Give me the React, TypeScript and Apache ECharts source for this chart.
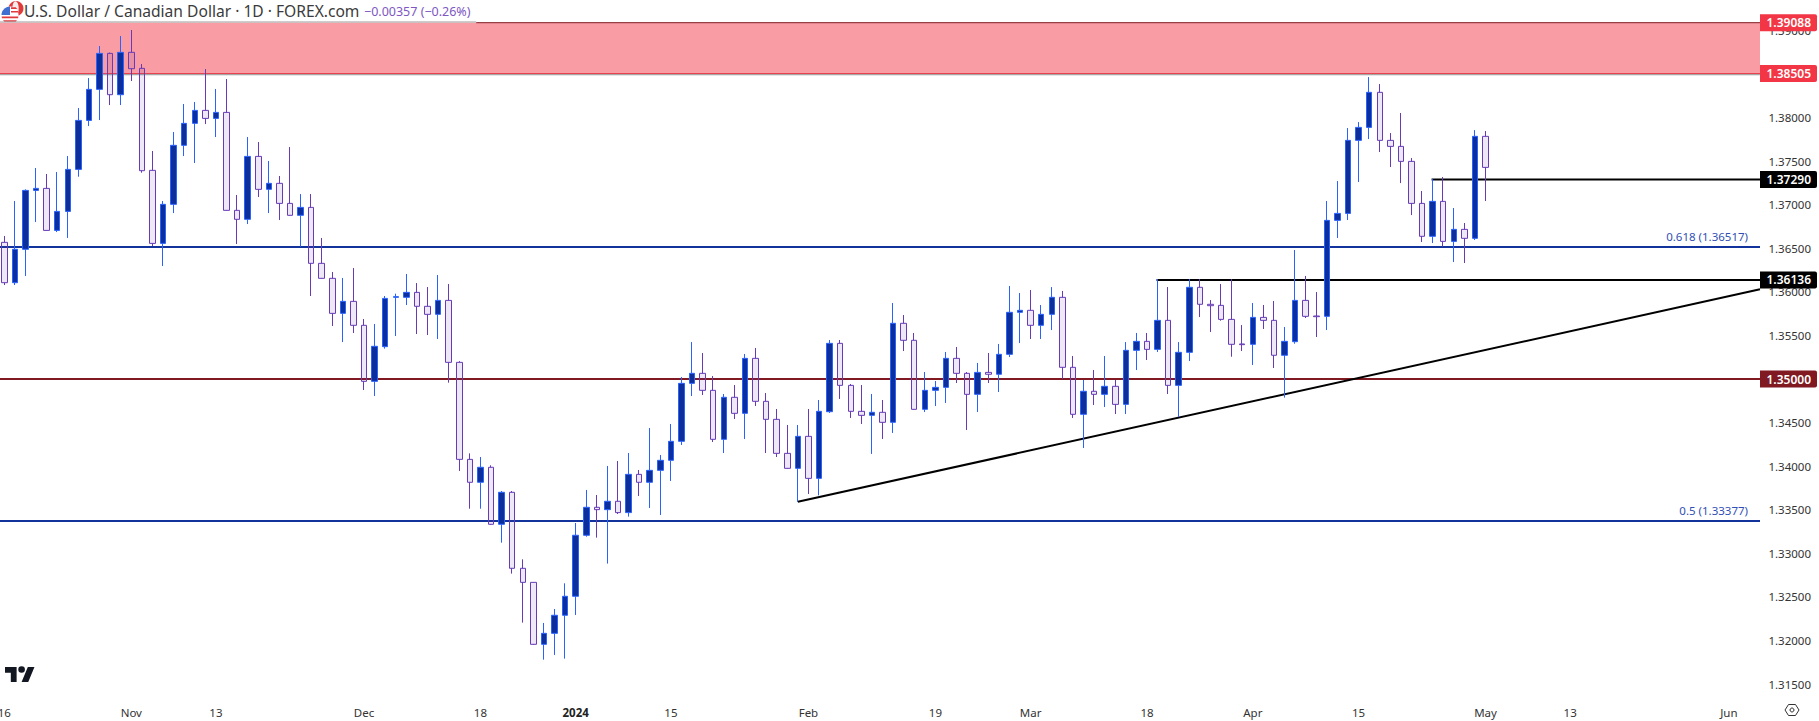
import React, { useEffect, useRef } from "react";
import * as echarts from "echarts";

const opens = [
  1.36568, 1.36105, 1.36488, 1.37164, 1.37187, 1.36705, 1.36923, 1.37405, 1.37967, 1.38323,
  1.38736, 1.38262, 1.38748, 1.38564, 1.37394, 1.36556, 1.37004, 1.37681, 1.37933, 1.38082,
  1.3799, 1.38059, 1.36935, 1.36832, 1.37554, 1.37176, 1.37245, 1.37015, 1.36878, 1.36969,
  1.36327, 1.36155, 1.35753, 1.35891, 1.35616, 1.34973, 1.35371, 1.35937, 1.35937, 1.35994,
  1.35834, 1.35742, 1.35902, 1.35191, 1.34078, 1.33815, 1.33987, 1.33333, 1.337, 1.32828,
  1.32667, 1.31956, 1.32082, 1.32289, 1.32507, 1.33207, 1.33528, 1.33501, 1.33597, 1.33467,
  1.33906, 1.33815, 1.33952, 1.34067, 1.34285, 1.3495, 1.35065, 1.3487, 1.34308, 1.3479,
  1.34606, 1.35237, 1.34744, 1.34537, 1.34147, 1.33975, 1.34342, 1.3386, 1.34625, 1.35409,
  1.34927, 1.34629, 1.34583, 1.34618, 1.34503, 1.35639, 1.35444, 1.34652, 1.3487, 1.34904,
  1.35237, 1.35065, 1.34824, 1.35076, 1.35054, 1.35283, 1.35765, 1.35788, 1.35616, 1.35742,
  1.35937, 1.35134, 1.34595, 1.34859, 1.34824, 1.34916, 1.34709, 1.35329, 1.35432, 1.3534,
  1.35673, 1.34927, 1.35306, 1.36052, 1.35857, 1.35845, 1.35684, 1.35402, 1.35398, 1.35707,
  1.35673, 1.35272, 1.35428, 1.35902, 1.35723, 1.35719, 1.3682, 1.369, 1.37738, 1.37887,
  1.38289, 1.37738, 1.37669, 1.37497, 1.37015, 1.36637, 1.37038, 1.36579, 1.36717, 1.36614,
  1.37784,
];
const closes = [
  1.36105, 1.36488, 1.37164, 1.37187, 1.36705, 1.36923, 1.37405, 1.37967, 1.38323, 1.38736,
  1.38262, 1.38748, 1.3856, 1.3739, 1.36556, 1.37004, 1.37681, 1.37933, 1.38082, 1.3799,
  1.38059, 1.36935, 1.36832, 1.37554, 1.37176, 1.37245, 1.37015, 1.36878, 1.36969, 1.36327,
  1.36155, 1.35753, 1.35891, 1.35616, 1.34973, 1.35375, 1.35925, 1.35945, 1.35994, 1.35834,
  1.35742, 1.35902, 1.35191, 1.34078, 1.33815, 1.33987, 1.33333, 1.337, 1.32828, 1.32667,
  1.31956, 1.32082, 1.32289, 1.32507, 1.33207, 1.33528, 1.33501, 1.33597, 1.33467, 1.33906,
  1.33815, 1.33952, 1.34067, 1.34285, 1.3495, 1.35065, 1.3487, 1.34308, 1.3479, 1.34606,
  1.35237, 1.34744, 1.34537, 1.34147, 1.33975, 1.34342, 1.3386, 1.34629, 1.35409, 1.34927,
  1.34629, 1.34583, 1.34618, 1.34503, 1.35639, 1.35444, 1.34652, 1.3487, 1.34904, 1.35237,
  1.35065, 1.34824, 1.35076, 1.35054, 1.35283, 1.35765, 1.35788, 1.35616, 1.35742, 1.35937,
  1.35134, 1.34595, 1.34859, 1.34824, 1.34916, 1.34709, 1.35329, 1.35432, 1.3534, 1.35673,
  1.34927, 1.35306, 1.36052, 1.35857, 1.35841, 1.35684, 1.35398, 1.35394, 1.35707, 1.35673,
  1.35272, 1.35432, 1.35902, 1.35719, 1.35715, 1.3682, 1.369, 1.37738, 1.37887, 1.38289,
  1.37738, 1.37669, 1.37497, 1.37015, 1.36637, 1.37038, 1.36579, 1.36717, 1.36614, 1.37784,
  1.37428,
];
const lows = [
  1.36078, 1.36078, 1.36182, 1.36801, 1.36702, 1.36686, 1.36618, 1.37321, 1.37902, 1.37971,
  1.38143, 1.38143, 1.38419, 1.37367, 1.36526, 1.36296, 1.36904, 1.37558, 1.37478, 1.37925,
  1.37776, 1.36931, 1.36549, 1.36778, 1.37088, 1.36904, 1.36824, 1.36874, 1.36518, 1.35952,
  1.36151, 1.35608, 1.35424, 1.35528, 1.34874, 1.34805, 1.35348, 1.35493, 1.35849, 1.35516,
  1.35505, 1.35459, 1.34958, 1.33945, 1.33512, 1.33512, 1.33325, 1.33122, 1.32767, 1.32205,
  1.3195, 1.3178, 1.31834, 1.31792, 1.32293, 1.33191, 1.3318, 1.32882, 1.33451, 1.33421,
  1.33658, 1.3352, 1.3344, 1.3383, 1.34243, 1.34805, 1.34816, 1.34277, 1.34151, 1.34541,
  1.34312, 1.3469, 1.34151, 1.34105, 1.33971, 1.33589, 1.33681, 1.33665, 1.3461, 1.34771,
  1.34553, 1.34484, 1.3414, 1.34312, 1.34381, 1.35321, 1.34648, 1.34621, 1.3469, 1.34725,
  1.34954, 1.34415, 1.34621, 1.34954, 1.34851, 1.35252, 1.35413, 1.35459, 1.35459, 1.35562,
  1.35, 1.34553, 1.34208, 1.34702, 1.34679, 1.34598, 1.34598, 1.35103, 1.35218, 1.3531,
  1.34828, 1.34564, 1.35206, 1.35711, 1.35539, 1.35669, 1.35256, 1.35321, 1.35161, 1.35574,
  1.35126, 1.34786, 1.35405, 1.357, 1.35482, 1.35562, 1.36618, 1.36824, 1.3726, 1.37753,
  1.37604, 1.37432, 1.37248, 1.36881, 1.36572, 1.3656, 1.36518, 1.36342, 1.36331, 1.36595,
  1.37042,
];
const highs = [
  1.36641, 1.37042, 1.37176, 1.37421, 1.37352, 1.37375, 1.37558, 1.38109, 1.38453, 1.3882,
  1.38745, 1.38935, 1.39004, 1.38614, 1.37616, 1.37042, 1.37834, 1.38155, 1.38178, 1.38556,
  1.38327, 1.38442, 1.37111, 1.37776, 1.37719, 1.37501, 1.37329, 1.37661, 1.37122, 1.37122,
  1.36618, 1.36228, 1.36159, 1.36273, 1.35688, 1.35631, 1.35952, 1.35979, 1.36205, 1.36101,
  1.36055, 1.36193, 1.3609, 1.35205, 1.34147, 1.34105, 1.3401, 1.33715, 1.33715, 1.32931,
  1.3267, 1.32201, 1.32361, 1.32656, 1.33348, 1.33727, 1.33669, 1.34002, 1.34059, 1.34151,
  1.33956, 1.34438, 1.34128, 1.34484, 1.35023, 1.35424, 1.35298, 1.35034, 1.34828, 1.34931,
  1.35287, 1.35356, 1.34839, 1.34656, 1.34472, 1.34472, 1.34656, 1.34759, 1.35447, 1.35447,
  1.34943, 1.34931, 1.34828, 1.34759, 1.35872, 1.35734, 1.35528, 1.3508, 1.34977, 1.3531,
  1.35367, 1.3508, 1.35184, 1.35298, 1.35402, 1.36067, 1.35987, 1.36021, 1.35849, 1.36055,
  1.3601, 1.35264, 1.34989, 1.35103, 1.35264, 1.34989, 1.35424, 1.35528, 1.35528, 1.36147,
  1.36055, 1.35424, 1.36147, 1.36147, 1.35906, 1.3609, 1.36147, 1.35619, 1.35872, 1.35849,
  1.35895, 1.35597, 1.3648, 1.36182, 1.35998, 1.37042, 1.37271, 1.37879, 1.37948, 1.38464,
  1.38384, 1.37822, 1.38052, 1.37535, 1.37157, 1.37294, 1.37317, 1.36962, 1.3679, 1.37856,
  1.37845,
];

const yTicks = [1.315, 1.32, 1.325, 1.33, 1.335, 1.34, 1.345, 1.35, 1.355, 1.36, 1.365, 1.37, 1.375, 1.38, 1.385, 1.39];
const xTickPositions = [0, 12, 20, 34, 45, 54, 63, 76, 88, 97, 108, 118, 128, 140, 148, 163];
const xTickLabels = ["16", "Nov", "13", "Dec", "18", "2024", "15", "Feb", "19", "Mar", "18", "Apr", "15", "May", "13", "Jun"];

const zone = [1.38505, 1.39088];
const fib618 = 1.36517;
const fib500 = 1.33377;
const psychLevel = 1.35;
const swingHigh = { price: 1.3729, from: 134.9 };
const swingLow = { price: 1.36136, from: 108.9 };
const trend = [[75, 1.33592], [165.94, 1.36029]];
const tags = [
  { value: 1.39088, key: "r" },
  { value: 1.38505, key: "r" },
  { value: 1.3729, key: "k" },
  { value: 1.36136, key: "k" },
  { value: 1.35, key: "m" },
];

const X_MIN = -0.411;
const X_MAX = 165.94;
const Y_MIN = 1.31363;
const Y_MAX = 1.39096;
const FONT = "Noto Sans";

echarts.graphic.registerShape("tvLogo", echarts.graphic.extendPath("M14 22H7V11H0V4h14v18zM28 22h-8l7.5-18h8L28 22zM20 11a4 4 0 1 0 0-8 4 4 0 0 0 0 8z", {}));
echarts.graphic.registerShape("usBlue", echarts.graphic.extendPath("M1.6 13.6A8.5 8.5 0 0 1 10 6.5V15H1.5z", {}));
echarts.graphic.registerShape("usRed", echarts.graphic.extendPath("M11 7.2H15.7L17.2 9H11zM11 11h6.9l.5 1.6H11zM1.6 16.6H18.4L18 18.2H2zM3 20.2H17L15.6 21.8H4.4z", {}));

function hLine(x0: number, x1: number, y: number, color: string, width: number, z = 2) {
  return {
    type: "line",
    data: [[x0, y], [x1, y]],
    showSymbol: false,
    silent: true,
    clip: false,
    z,
    lineStyle: { color, width },
  };
}

function tagStyle(backgroundColor: string) {
  return {
    backgroundColor,
    color: "#fff",
    width: 51,
    height: 17,
    align: "right",
    padding: [0, 6, 0, 0],
    fontSize: 12,
    fontWeight: 600,
    fontFamily: FONT,
    borderRadius: [0, 2, 2, 0],
  };
}

export default function App() {
  const ref = useRef<HTMLDivElement>(null);
  useEffect(() => {
    document.body.style.margin = "0";
    const chart = echarts.init(ref.current!, null, { renderer: "svg" });
    const candleData = opens.map((o, i) => [i, o, closes[i], lows[i], highs[i]]);
    const fibLabel = (text: string) => ({
      show: true,
      formatter: text,
      position: "insideEndTop",
      distance: 4,
      padding: [0, 8, 0, 0],
      color: "#2f4fb5",
      fontSize: 11.5,
      fontFamily: FONT,
    });
    chart.setOption({
      animation: false,
      backgroundColor: "#ffffff",
      title: [
        {
          text: "U.S. Dollar / Canadian Dollar · 1D · FOREX.com",
          left: 24,
          top: 3,
          padding: 0,
          textStyle: { color: "#3b3b3b", fontSize: 15.6, fontWeight: "normal", fontFamily: FONT },
        },
        {
          text: "−0.00357 (−0.26%)",
          left: 364,
          top: 5,
          padding: 0,
          textStyle: { color: "#7e57c2", fontSize: 12.5, fontWeight: "normal", fontFamily: FONT },
        },
      ],
      grid: { left: 0, top: 22, width: 1760, height: 674, containLabel: false, outerBoundsMode: "none" },
      xAxis: {
        type: "value",
        min: X_MIN,
        max: X_MAX,
        splitLine: { show: false },
        axisLine: { show: false },
        axisTick: { show: false },
        axisLabel: {
          show: true,
          customValues: xTickPositions,
          formatter: (v: number) => {
            const label = xTickLabels[xTickPositions.indexOf(v)] ?? "";
            return label === "2024" ? `{b|${label}}` : label;
          },
          rich: { b: { fontWeight: "bold", color: "#222", fontSize: 11.5, fontFamily: FONT } },
          color: "#333",
          fontSize: 11.5,
          fontFamily: FONT,
          margin: 10,
          hideOverlap: false,
          showMinLabel: true,
          showMaxLabel: true,
        },
      },
      yAxis: [
        {
          type: "value",
          position: "right",
          min: Y_MIN,
          max: Y_MAX,
          splitLine: { show: false },
          axisLine: { show: false },
          axisTick: { show: false },
          axisLabel: {
            customValues: yTicks,
            formatter: (v: number) => v.toFixed(5),
            align: "right",
            margin: 51,
            color: "#333",
            fontSize: 11.5,
            fontFamily: FONT,
          },
        },
        {
          type: "value",
          position: "right",
          min: Y_MIN,
          max: Y_MAX,
          splitLine: { show: false },
          axisLine: { show: false },
          axisTick: { show: false },
          axisLabel: {
            customValues: tags.map((t) => t.value),
            formatter: (v: number) => {
              const t = tags.find((g) => g.value === v);
              return `{${t ? t.key : "k"}|${v.toFixed(5)}}`;
            },
            align: "left",
            margin: 0,
            rich: { r: tagStyle("#f23645"), k: tagStyle("#000000"), m: tagStyle("#801922") },
          },
        },
      ],
      series: [
        {
          type: "line",
          data: [],
          silent: true,
          z: 1,
          markArea: {
            silent: true,
            z: 1,
            itemStyle: { color: "#f99ca4", borderWidth: 0 },
            data: [[{ yAxis: zone[0] }, { yAxis: zone[1] }]],
          },
          markLine: {
            silent: true,
            z: 2,
            symbol: "none",
            precision: 5,
            animation: false,
            data: [
              { yAxis: fib618, lineStyle: { color: "#12339b", width: 2, type: "solid" }, label: fibLabel("0.618 (1.36517)") },
              { yAxis: fib500, lineStyle: { color: "#12339b", width: 2, type: "solid" }, label: fibLabel("0.5 (1.33377)") },
              { yAxis: psychLevel, lineStyle: { color: "#801922", width: 2, type: "solid" }, label: { show: false } },
            ],
          },
        },
        hLine(X_MIN, 44.6, Y_MAX, "#9a9a9a", 1),
        hLine(44.6, X_MAX, zone[1], "#801922", 1),
        hLine(X_MIN, X_MAX, zone[0], "#e8434f", 1),
        hLine(X_MIN, X_MAX, zone[0] - 0.00014, "#8d8d8d", 1),
        hLine(swingHigh.from, X_MAX, swingHigh.price, "#000000", 2),
        hLine(swingLow.from, X_MAX, swingLow.price, "#000000", 2),
        {
          type: "line",
          data: trend,
          showSymbol: false,
          silent: true,
          clip: false,
          z: 2,
          lineStyle: { color: "#000000", width: 2 },
        },
        {
          type: "candlestick",
          z: 5,
          barWidth: 6,
          silent: true,
          data: candleData,
          itemStyle: {
            color: "#0d2f9c",
            color0: "rgba(103,58,183,0.12)",
            borderColor: "#2962ff",
            borderColor0: "#673ab7",
            borderColorDoji: "#673ab7",
            borderWidth: 1,
          },
        },
      ],
      graphic: [
        { type: "circle", shape: { cx: 16, cy: 8.5, r: 7.5 }, style: { fill: "#e03a3a" } },
        { type: "ellipse", shape: { cx: 15.5, cy: 8.5, rx: 3.2, ry: 7.2 }, style: { fill: "#f6eaea" } },
        { type: "circle", shape: { cx: 10, cy: 15, r: 8.5 }, style: { fill: "#ffffff" } },
        { type: "usRed", x: 0, y: 0, style: { fill: "#e0393e" } },
        { type: "usBlue", x: 0, y: 0, style: { fill: "#3f6fd0" } },
        { type: "tvLogo", x: 5, y: 663.7, scaleX: 0.83, scaleY: 0.83, style: { fill: "#131722" } },
        {
          type: "polygon",
          shape: { points: [[1785, 710], [1788.5, 704.5], [1795.5, 704.5], [1799, 710], [1795.5, 715.5], [1788.5, 715.5]] },
          style: { fill: "none", stroke: "#333", lineWidth: 1 },
        },
        { type: "circle", shape: { cx: 1792, cy: 710, r: 2 }, style: { fill: "none", stroke: "#333", lineWidth: 1 } },
      ],
    });
    return () => chart.dispose();
  }, []);
  return <div ref={ref} style={{ position: "absolute", left: 0, top: 0, width: 1819, height: 721 }} />;
}
